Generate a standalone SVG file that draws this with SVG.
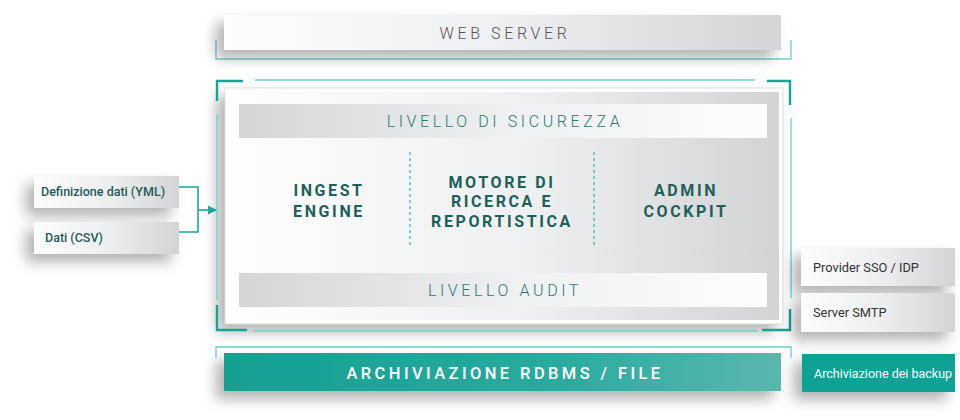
<svg xmlns="http://www.w3.org/2000/svg" width="960" height="420" viewBox="0 0 960 420">
<defs>
  <linearGradient id="gWhiteGray" x1="0" y1="0" x2="1" y2="0">
    <stop offset="0" stop-color="#fdfdfd"/>
    <stop offset="0.5" stop-color="#eeeff0"/>
    <stop offset="1" stop-color="#d3d4d6"/>
  </linearGradient>
  <linearGradient id="gGrayWhite" x1="0" y1="0" x2="1" y2="0">
    <stop offset="0" stop-color="#d4d5d7"/>
    <stop offset="0.5" stop-color="#eeeff0"/>
    <stop offset="1" stop-color="#fdfdfd"/>
  </linearGradient>
  <linearGradient id="gMain" x1="0" y1="0" x2="1" y2="0">
    <stop offset="0" stop-color="#fefefe"/>
    <stop offset="0.55" stop-color="#eeeff0"/>
    <stop offset="1" stop-color="#d2d3d5"/>
  </linearGradient>
  <linearGradient id="gTeal" x1="0" y1="0" x2="1" y2="0">
    <stop offset="0" stop-color="#12a092"/>
    <stop offset="0.6" stop-color="#2aab9f"/>
    <stop offset="1" stop-color="#5bb7ae"/>
  </linearGradient>
  <filter id="sh" x="-20%" y="-50%" width="140%" height="220%">
    <feDropShadow dx="-8" dy="8" stdDeviation="7" flood-color="#000" flood-opacity="0.3"/>
  </filter>
  <marker id="arr" viewBox="0 0 8 8" refX="7" refY="4" markerWidth="6" markerHeight="6" orient="auto">
    <path d="M0,0 L8,4 L0,8 Z" fill="#1aa99a"/>
  </marker>
  <style>
    .thin{fill:none;stroke:#6fcfc4;stroke-width:1.3}
    .thick{fill:none;stroke:#13a595;stroke-width:2.4}
    .cap{font-family:Roboto,"Liberation Sans",sans-serif;font-weight:300;font-size:16px;letter-spacing:3.6px;text-anchor:middle}
    .col{font-family:Roboto,"Liberation Sans",sans-serif;font-weight:700;font-size:16px;letter-spacing:2.6px;fill:#1d5f59;text-anchor:middle}
    .side{font-family:Roboto,"Liberation Sans",sans-serif;font-size:12.5px;fill:#1c5b56;font-weight:500}
    .ext{font-family:Roboto,"Liberation Sans",sans-serif;font-size:12.8px;fill:#333;}
    .dash{stroke:#2bb5a7;stroke-width:1.2;stroke-dasharray:3,3}
    .conn{fill:none;stroke:#1aa99a;stroke-width:1.6}
  </style>
</defs>
<rect width="960" height="420" fill="#ffffff"/>

<!-- Web server -->
<g id="web-server">
  <path class="thin" d="M216,40 V59 H791 V40"/>
  <rect x="224" y="15" width="557" height="35" fill="url(#gWhiteGray)" filter="url(#sh)"/>
  <text class="cap" x="505" y="39" fill="#555">WEB SERVER</text>
</g>

<!-- Main container -->
<g id="main-container">
  <rect x="227" y="90" width="554" height="232" fill="url(#gMain)" stroke="#ffffff" stroke-width="4" filter="url(#sh)"/>
  <rect x="225" y="88" width="558" height="236" fill="none" stroke="#dcdddf" stroke-width="1"/>
  <path class="thick" d="M217,101 V81 H243"/>
  <path class="thin" d="M255,80 H755"/>
  <path class="thick" d="M767,81 H790 V105"/>
  <path class="thin" d="M217,114 V300"/>
  <path class="thin" d="M791,118 V298"/>
  <path class="thick" d="M217,305 V330 H247"/>
  <path class="thin" d="M253,331 H757"/>
  <path class="thick" d="M762,330 H790 V309"/>
</g>

<g id="livello-sicurezza">
  <rect x="239" y="104" width="528" height="34" fill="url(#gGrayWhite)"/>
  <text class="cap" x="505" y="127" fill="#2b7a73">LIVELLO DI SICUREZZA</text>
</g>

<g id="ingest-engine">
  <text class="col" x="329" y="196">INGEST</text>
  <text class="col" x="329" y="217">ENGINE</text>
</g>
<g id="motore-ricerca">
  <text class="col" x="502" y="188">MOTORE DI</text>
  <text class="col" x="502" y="207">RICERCA E</text>
  <text class="col" x="502" y="227">REPORTISTICA</text>
</g>
<g id="admin-cockpit">
  <text class="col" x="686" y="196">ADMIN</text>
  <text class="col" x="686" y="217">COCKPIT</text>
</g>
<line class="dash" x1="410" y1="152" x2="410" y2="248"/>
<line class="dash" x1="594" y1="152" x2="594" y2="248"/>

<g id="livello-audit">
  <rect x="239" y="273" width="528" height="34" fill="url(#gGrayWhite)"/>
  <text class="cap" x="505" y="296" fill="#2b7a73">LIVELLO AUDIT</text>
</g>

<!-- Storage -->
<g id="archiviazione-rdbms">
  <path class="thin" d="M216,358 V347 H791 V358"/>
  <rect x="224" y="353" width="557" height="38" fill="url(#gTeal)" filter="url(#sh)"/>
  <text class="cap" x="505" y="379" fill="#ffffff" style="font-weight:500;font-size:16.5px;letter-spacing:3.4px">ARCHIVIAZIONE RDBMS / FILE</text>
</g>

<!-- Left inputs -->
<g id="definizione-dati">
  <rect x="34" y="176" width="145" height="32" fill="url(#gWhiteGray)" filter="url(#sh)"/>
  <text class="side" x="41" y="196">Definizione dati (YML)</text>
</g>
<g id="dati-csv">
  <rect x="34" y="222" width="145" height="32" fill="url(#gWhiteGray)" filter="url(#sh)"/>
  <text class="side" x="45" y="242">Dati (CSV)</text>
</g>

<!-- Right externals -->
<g id="provider-sso">
  <rect x="801" y="248" width="154" height="38" fill="url(#gWhiteGray)" filter="url(#sh)"/>
  <text class="ext" x="813" y="272">Provider SSO / IDP</text>
</g>
<g id="server-smtp">
  <rect x="801" y="293" width="154" height="39" fill="url(#gWhiteGray)" filter="url(#sh)"/>
  <text class="ext" x="813" y="317">Server SMTP</text>
</g>
<g id="archiviazione-backup">
  <rect x="802" y="354" width="153" height="38" fill="#0fa293" filter="url(#sh)"/>
  <text class="ext" x="814" y="378" style="fill:#ffffff;font-size:12.5px">Archiviazione dei backup</text>
</g>

<!-- Connectors -->
<g id="connectors">
  <path class="conn" d="M179,187 H198 V232 H179"/>
  <path class="conn" d="M198,210 H216" marker-end="url(#arr)"/>
</g>
</svg>
